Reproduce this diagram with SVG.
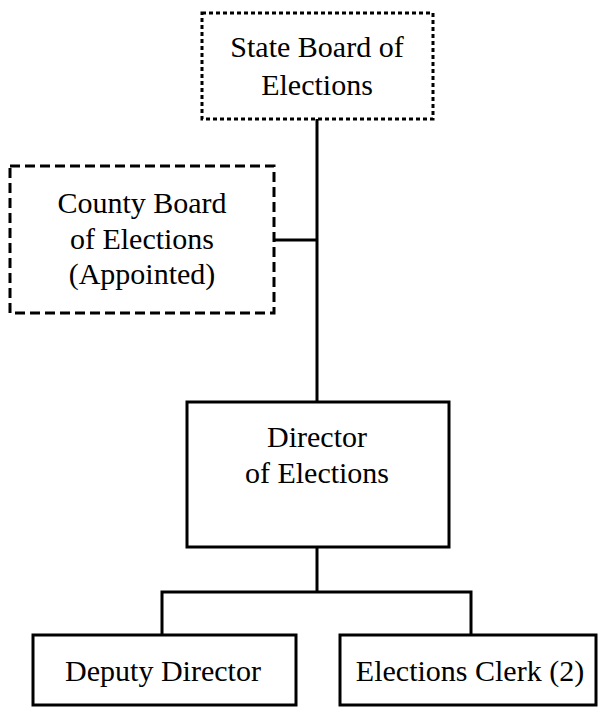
<svg xmlns="http://www.w3.org/2000/svg" width="598" height="707" viewBox="0 0 598 707">
  <style>
    .box { fill: #ffffff; stroke: #000000; stroke-width: 3; }
    .dotted { stroke-dasharray: 4 3; }
    .dashed { stroke-dasharray: 10 5; }
    .link { fill: none; stroke: #000000; stroke-width: 3; }
  </style>
  <rect width="598" height="707" fill="#ffffff"/>

  <g id="connectors">
    <line class="link" x1="317" y1="119" x2="317" y2="402"/>
    <line class="link" x1="274" y1="240" x2="317" y2="240"/>
    <line class="link" x1="317" y1="547" x2="317" y2="592"/>
    <polyline class="link" points="162,635 162,592 471,592 471,635"/>
  </g>

  <g id="state-board">
    <rect class="box dotted" x="202" y="13" width="231" height="106"/>
    <text x="317" y="57" font-family="Liberation Serif" font-size="30" text-anchor="middle">State Board of</text>
    <text x="317" y="95" font-family="Liberation Serif" font-size="30" text-anchor="middle">Elections</text>
  </g>

  <g id="county-board">
    <rect class="box dashed" x="10" y="166" width="264" height="147"/>
    <text x="142" y="213" font-family="Liberation Serif" font-size="30" text-anchor="middle">County Board</text>
    <text x="142" y="249" font-family="Liberation Serif" font-size="30" text-anchor="middle">of Elections</text>
    <text x="142" y="284" font-family="Liberation Serif" font-size="30" text-anchor="middle">(Appointed)</text>
  </g>

  <g id="director">
    <rect class="box" x="187" y="402" width="262" height="145"/>
    <text x="317" y="447" font-family="Liberation Serif" font-size="30" text-anchor="middle">Director</text>
    <text x="317" y="483" font-family="Liberation Serif" font-size="30" text-anchor="middle">of Elections</text>
  </g>

  <g id="deputy-director">
    <rect class="box" x="33" y="635" width="263" height="70"/>
    <text x="163" y="681" font-family="Liberation Serif" font-size="30" text-anchor="middle">Deputy Director</text>
  </g>

  <g id="elections-clerk">
    <rect class="box" x="340" y="635" width="256" height="70"/>
    <text x="470" y="681" font-family="Liberation Serif" font-size="30" text-anchor="middle">Elections Clerk (2)</text>
  </g>
</svg>
